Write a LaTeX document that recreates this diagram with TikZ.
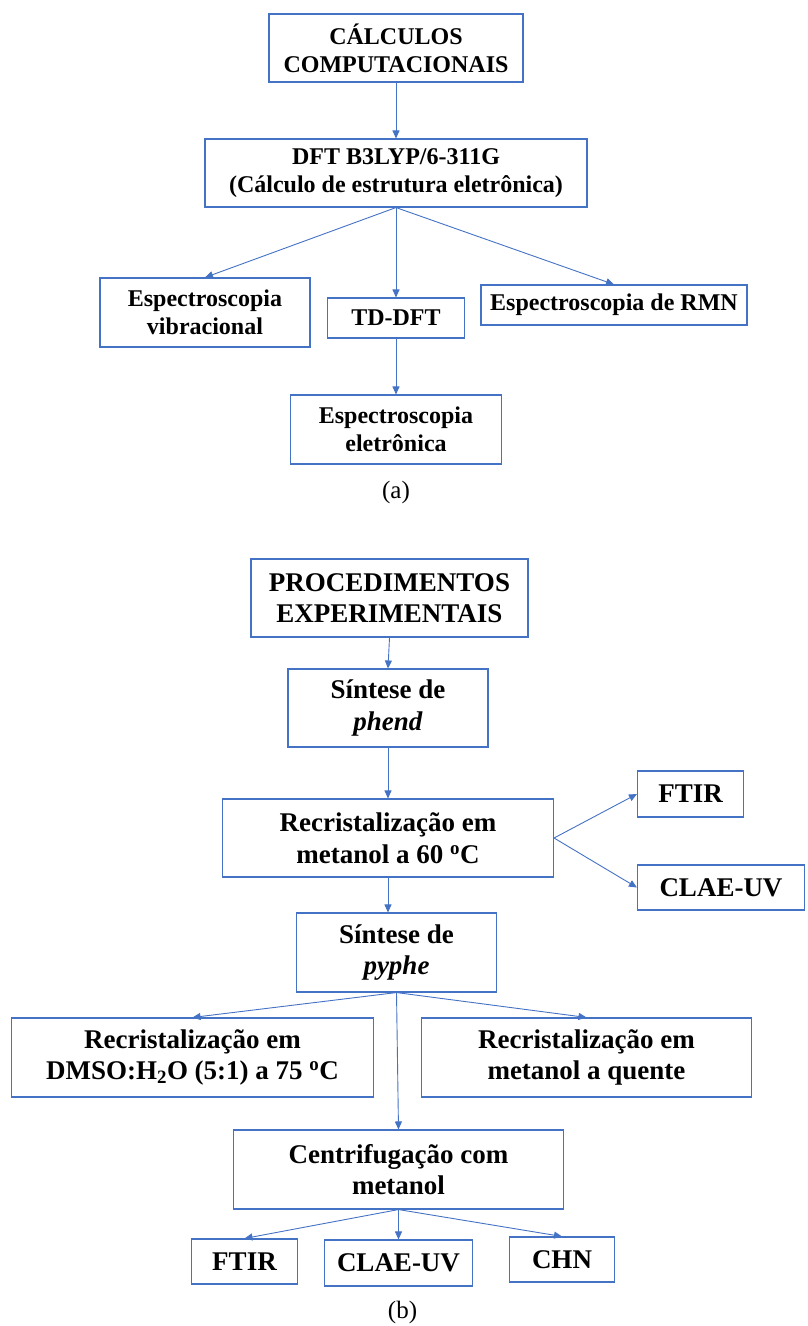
\documentclass[tikz,border=0pt]{standalone}
\usepackage{fontspec}
\setmainfont{Liberation Serif}
\usepackage{xcolor}
\usepackage{tikz}
\usetikzlibrary{arrows.meta, positioning}
\definecolor{boxblue}{HTML}{4472C4}
\tikzset{
    boxnode/.style = {draw=boxblue, rectangle, line width=1.1pt, fill=none, inner sep=0pt, 
      node distance=0pt, align=center},
    boxnodeA/.style = {boxnode, font=\fontsize{24}{28}\selectfont\bfseries},
    boxnodeB/.style = {boxnode, font=\fontsize{27}{31.5}\selectfont\bfseries},
    labelnode/.style = {draw=none, fill=none, rectangle, inner sep=0pt, node distance=0pt, 
      font=\fontsize{25}{28}\selectfont},
    connect/.style = {boxblue, line width=0.9pt, -{Triangle[length=8pt,width=7pt]}}
}
\begin{document}
\begin{tikzpicture}
\useasboundingbox (0pt,0pt) rectangle (807pt,-1326pt);
\node[boxnodeA, minimum width=254pt, minimum height=68pt, name=calc] at (396pt,-48pt) {CÁLCULOS\\COMPUTACIONAIS};
\node[boxnodeA, minimum width=382pt, minimum height=68pt, name=dft, below of = calc, yshift=-125pt] {DFT B3LYP/6-311G\\(Cálculo de estrutura eletrônica)};
\node[boxnodeA, minimum width=210pt, minimum height=69pt, name=vib, below of = dft, xshift=-191pt, yshift=-139.5pt] {Espectroscopia\\vibracional};
\node[boxnodeA, minimum width=137pt, minimum height=40pt, name=tddft, below of = dft, yshift=-145pt] {TD-DFT};
\node[boxnodeA, minimum width=266pt, minimum height=40pt, name=rmn, below of = dft, xshift=218pt, yshift=-132pt] {Espectroscopia de RMN};
\node[boxnodeA, minimum width=211pt, minimum height=69pt, name=eletr, below of = tddft, yshift=-111.5pt] {Espectroscopia\\eletrônica};
\node[labelnode, name=capa, below of = eletr, yshift=-62.5pt] {(a)};

\node[boxnodeB, minimum width=277pt, minimum height=78pt, name=proc, below of = capa, xshift=-6.5pt, yshift=-106pt] {PROCEDIMENTOS\\EXPERIMENTAIS};
\node[boxnodeB, minimum width=200pt, minimum height=78pt, name=phend, below of = proc, xshift=-1.5pt, yshift=-110pt] {Síntese de\\\textit{phend}};
\node[boxnodeB, minimum width=331pt, minimum height=78pt, name=rec, below of = phend, yshift=-130pt] {Recristalização em\\metanol a 60 \textsuperscript{o}C};
\node[boxnodeB, minimum width=106pt, minimum height=46pt, name=ftirA, right of = rec, xshift=302.5pt, yshift=44pt] {FTIR};
\node[boxnodeB, minimum width=167pt, minimum height=45pt, name=claeA, right of = rec, xshift=333pt, yshift=-49.5pt] {CLAE-UV};
\node[boxnodeB, minimum width=200pt, minimum height=79pt, name=pyphe, below of = rec, xshift=8.5pt, yshift=-114.5pt] {Síntese de\\\textit{pyphe}};
\node[boxnodeB, minimum width=362pt, minimum height=79pt, name=dmso, below of = pyphe, xshift=-204pt, yshift=-105pt] {Recristalização em\\DMSO:H\textsubscript{2}O (5:1) a 75 \textsuperscript{o}C};
\node[boxnodeB, minimum width=330pt, minimum height=79pt, name=quente, below of = pyphe, xshift=190pt, yshift=-105pt] {Recristalização em\\metanol a quente};
\node[boxnodeB, minimum width=330pt, minimum height=79pt, name=centr, below of = pyphe, xshift=2pt, yshift=-217pt] {Centrifugação com\\metanol};
\node[boxnodeB, minimum width=106pt, minimum height=45pt, name=ftirB, below of = centr, xshift=-154pt, yshift=-92pt] {FTIR};
\node[boxnodeB, minimum width=148pt, minimum height=46pt, name=claeB, below of = centr, yshift=-93.5pt] {CLAE-UV};
\node[boxnodeB, minimum width=105pt, minimum height=45pt, name=chn, below of = centr, xshift=163.5pt, yshift=-90pt] {CHN};
\node[labelnode, name=capb, below of = centr, xshift=4pt, yshift=-142.5pt] {(b)};

\draw[connect] (calc.south) -- (dft.north);
\draw[connect] (dft.south) -- (vib.north);
\draw[connect] (dft.south) -- (tddft.north);
\draw[connect] (dft.south) -- (rmn.north);
\draw[connect] (tddft.south) -- (eletr.north);

\draw[connect] (proc.south) -- (phend.north);
\draw[connect] (phend.south) -- (rec.north);
\draw[connect] (rec.east) -- (ftirA.west);
\draw[connect] (rec.east) -- (claeA.west);
\draw[connect] (rec.south) -- (rec.south |- pyphe.north);
\draw[connect] (pyphe.south) -- (dmso.north);
\draw[connect] (pyphe.south) -- (quente.north);
\draw[connect] (pyphe.south) -- (centr.north);
\draw[connect] (centr.south) -- (ftirB.north);
\draw[connect] (centr.south) -- (claeB.north);
\draw[connect] (centr.south) -- (chn.north);
\end{tikzpicture}
\end{document}
